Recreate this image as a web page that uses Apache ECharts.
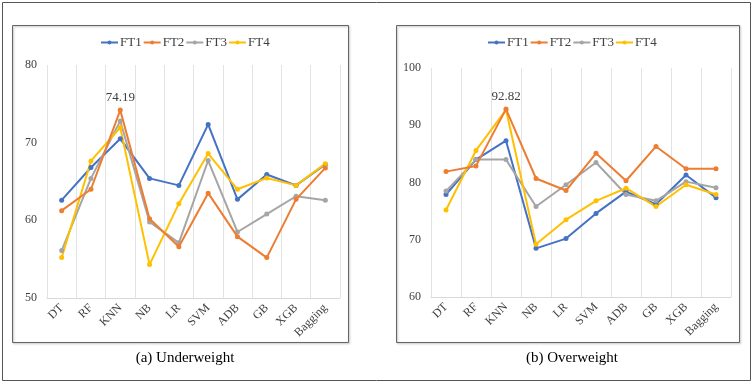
<!DOCTYPE html>
<html><head><meta charset="utf-8">
<script src="https://cdn.jsdelivr.net/npm/echarts@6/dist/echarts.min.js"></script>
<style>html,body{margin:0;padding:0;background:#fff}#c{width:753px;height:384px}</style>
</head><body><div id="c"></div>
<script>
const categories = ['DT','RF','KNN','NB','LR','SVM','ADB','GB','XGB','Bagging'];
const seriesNames = ['FT1','FT2','FT3','FT4'];
const colors = ['#4472C4','#ED7D31','#A5A5A5','#FFC000'];
// (a) Underweight
const uFT1 = [62.6, 66.8, 70.5, 65.4, 64.5, 72.35, 62.7, 65.9, 64.5, 67.2];
const uFT2 = [61.25, 64.0, 74.19, 60.2, 56.6, 63.5, 57.9, 55.2, 62.7, 66.75];
const uFT3 = [56.1, 65.4, 72.8, 59.8, 57.1, 67.7, 58.5, 60.8, 63.1, 62.6];
const uFT4 = [55.2, 67.65, 71.95, 54.3, 62.15, 68.6, 64.0, 65.45, 64.5, 67.3];
// (b) Overweight
const oFT1 = [77.9, 84.0, 87.3, 68.5, 70.2, 74.6, 78.4, 76.2, 81.3, 77.35];
const oFT2 = [81.9, 82.9, 92.82, 80.7, 78.6, 85.1, 80.3, 86.3, 82.4, 82.4];
const oFT3 = [78.5, 84.0, 84.0, 75.8, 79.6, 83.5, 77.9, 76.8, 80.15, 79.1];
const oFT4 = [75.2, 85.6, 92.7, 69.2, 73.5, 76.8, 79.0, 75.8, 79.6, 77.9];
const uTicks = [50, 80, 10];
const oTicks = [60, 100, 10];
const captions = ['(a) Underweight', '(b) Overweight'];
const peakLabels = [[2, 74.19], [2, 92.82]];

const font = '"Liberation Serif", "Times New Roman", serif';
const chart = echarts.init(document.getElementById('c'));
const grids = [
  {left: 47, top: 65, width: 293, height: 233},
  {left: 431, top: 68, width: 300, height: 229}
];
const uData = [uFT1, uFT2, uFT3, uFT4];
const oData = [oFT1, oFT2, oFT3, oFT4];
function mkSeries(data, gi, peak) {
  return data.map((d, i) => ({
    name: seriesNames[i], type: 'line', xAxisIndex: gi, yAxisIndex: gi,
    data: d, symbol: 'circle', symbolSize: 5,
    lineStyle: {width: 2, color: colors[i]}, itemStyle: {color: colors[i]},
    z: i === 1 ? 5 : 3,
    label: {show: false},
    markPoint: i === 1 ? {
      symbol: 'circle', symbolSize: 0,
      data: [{coord: [peak[0], peak[1]], value: peak[1]}],
      label: {show: true, position: 'top', distance: 6, color: '#404040', fontFamily: font, fontSize: 13, formatter: String(peak[1])}
    } : undefined
  }));
}
const xAx = gi => ({
  type: 'category', gridIndex: gi, data: categories, boundaryGap: true,
  axisLine: {show: true, lineStyle: {color: '#d9d9d9'}}, axisTick: {show: false},
  splitLine: {show: true, lineStyle: {color: '#e3e3e3'}},
  axisLabel: {rotate: 45, color: '#404040', fontFamily: font, fontSize: 12, margin: 8, interval: 0}
});
const yAx = (gi, t) => ({
  type: 'value', gridIndex: gi, min: t[0], max: t[1], interval: t[2],
  axisLine: {show: false}, axisTick: {show: false}, splitLine: {show: false},
  axisLabel: {color: '#404040', fontFamily: font, fontSize: 12, margin: 10}
});
const legend = (lx) => ({
  data: seriesNames, top: 31, left: lx, padding: [5, 0, 5, 0], itemWidth: 17, itemHeight: 5, itemGap: 1,
  textStyle: {fontFamily: font, fontSize: 13, color: '#404040', padding: [0, 0, 0, -3]}
});
chart.setOption({
  animation: false,
  textStyle: {fontFamily: font},
  grid: grids,
  xAxis: [xAx(0), xAx(1)],
  yAxis: [yAx(0, uTicks), yAx(1, oTicks)],
  legend: [legend(100), legend(487)],
  title: [
    {text: captions[0], left: 180, top: 346, textAlign: 'center', textStyle: {fontFamily: font, fontSize: 15, fontWeight: 'normal', color: '#000'}},
    {text: captions[1], left: 567, top: 346, textAlign: 'center', textStyle: {fontFamily: font, fontSize: 15, fontWeight: 'normal', color: '#000'}}
  ],
  graphic: [
    {type: 'rect', shape: {x: 2.5, y: 2.5, width: 748, height: 378}, style: {fill: 'none', stroke: '#555', lineWidth: 1}, silent: true},
    {type: 'rect', shape: {x: 12.5, y: 25.5, width: 336, height: 317}, style: {fill: 'none', stroke: '#666', lineWidth: 1, shadowColor: 'rgba(0,0,0,0.3)', shadowBlur: 2, shadowOffsetX: 1, shadowOffsetY: 1}, silent: true},
    {type: 'rect', shape: {x: 396.5, y: 25.5, width: 343, height: 317}, style: {fill: 'none', stroke: '#666', lineWidth: 1, shadowColor: 'rgba(0,0,0,0.3)', shadowBlur: 2, shadowOffsetX: 1, shadowOffsetY: 1}, silent: true}
  ],
  series: [...mkSeries(uData, 0, peakLabels[0]), ...mkSeries(oData, 1, peakLabels[1])]
});
</script></body></html>
